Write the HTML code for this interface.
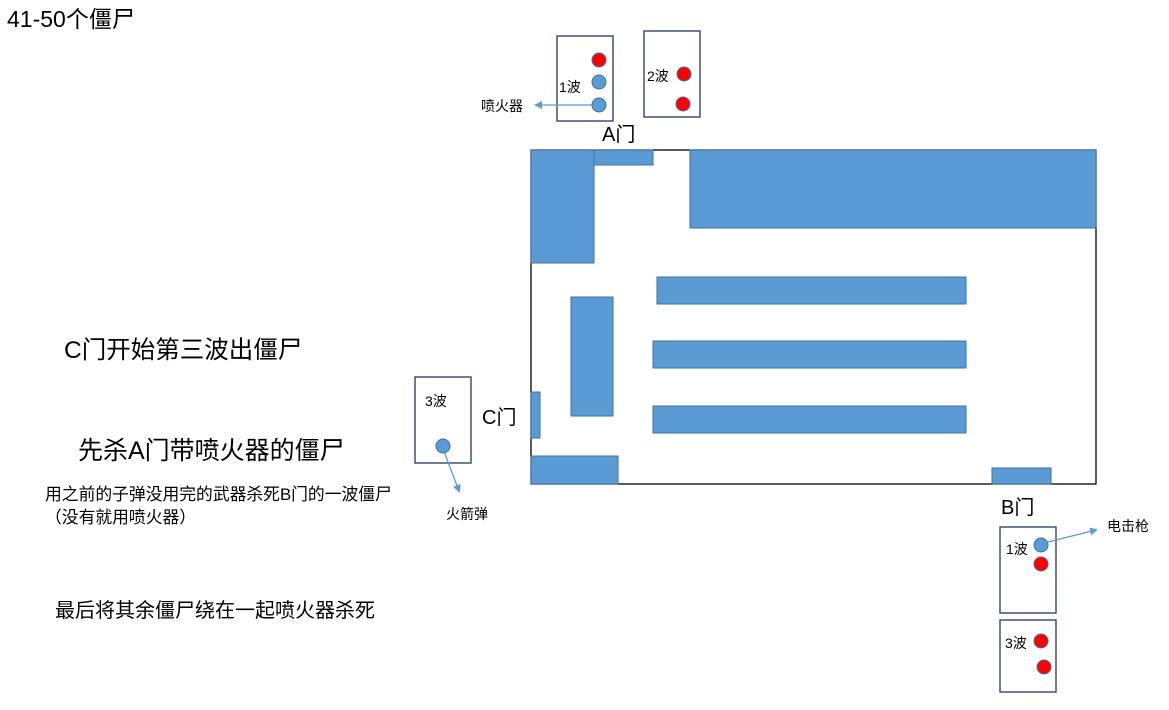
<!DOCTYPE html>
<html><head><meta charset="utf-8"><style>
html,body{margin:0;padding:0;background:#fff;}
svg{display:block;font-family:"Liberation Sans","Noto Sans CJK SC",sans-serif;}
</style></head><body>
<svg width="1169" height="710" viewBox="0 0 1169 710" xmlns="http://www.w3.org/2000/svg">
<defs>
<marker id="ar" markerWidth="8" markerHeight="8" refX="6" refY="4" orient="auto" markerUnits="userSpaceOnUse">
<path d="M0,0 L8,4 L0,8 Z" fill="#5b9bd5"/></marker>
</defs>
<rect width="1169" height="710" fill="#fff"/>
<text x="7" y="27" font-size="23" fill="#000">41-50个僵尸</text>
<text x="64" y="358" font-size="24.5" fill="#000">C门开始第三波出僵尸</text>
<text x="78" y="459" font-size="25" fill="#000">先杀A门带喷火器的僵尸</text>
<text x="45" y="500" font-size="16.8" fill="#000">用之前的子弹没用完的武器杀死B门的一波僵尸</text>
<text x="45" y="523" font-size="16.8" fill="#000">（没有就用喷火器）</text>
<text x="55" y="617" font-size="20" fill="#000">最后将其余僵尸绕在一起喷火器杀死</text>

<rect x="531" y="150" width="565" height="334" fill="none" stroke="#000" stroke-width="1.3"/>
<g fill="#5b9bd5" stroke="#41719c" stroke-width="1">
<rect x="531" y="150" width="63" height="113"/>
<rect x="594" y="150" width="59" height="15"/>
<rect x="690" y="150" width="406" height="78"/>
<rect x="657" y="277" width="309" height="27"/>
<rect x="653" y="341" width="313" height="27"/>
<rect x="653" y="406" width="313" height="27"/>
<rect x="571" y="297" width="42" height="119"/>
<rect x="531" y="392" width="9" height="46"/>
<rect x="531" y="456" width="87" height="28"/>
<rect x="992" y="468" width="59" height="16"/>
</g>
<text x="602" y="141" font-size="20" fill="#000">A门</text>
<text x="482" y="424" font-size="20" fill="#000">C门</text>
<text x="1001" y="514" font-size="20" fill="#000">B门</text>

<g fill="#fff" stroke="#1f3864" stroke-width="1.3">
<rect x="557" y="36" width="56" height="85"/>
<rect x="644" y="31" width="56" height="86"/>
<rect x="415" y="377" width="56" height="86"/>
<rect x="1000" y="527" width="56" height="86"/>
<rect x="1000" y="620" width="56" height="72"/>
</g>
<g font-size="14" fill="#000">
<text x="559" y="92">1波</text>
<text x="647" y="81">2波</text>
<text x="425" y="406">3波</text>
<text x="1006" y="554">1波</text>
<text x="1005" y="648">3波</text>
</g>
<g stroke="#5b9bd5" stroke-width="1.3" fill="none">
<line x1="598" y1="105" x2="536" y2="105" marker-end="url(#ar)"/>
<line x1="442" y1="446" x2="459" y2="491" marker-end="url(#ar)"/>
<line x1="1048" y1="542" x2="1096" y2="530" marker-end="url(#ar)"/>
</g>
<g font-size="14" fill="#000">
<text x="481" y="111">喷火器</text>
<text x="446" y="519">火箭弹</text>
<text x="1107" y="531">电击枪</text>
</g>
<g stroke="#41719c" stroke-width="1">
<circle cx="599" cy="60" r="7" fill="#ff0000"/>
<circle cx="599" cy="82" r="7" fill="#5b9bd5"/>
<circle cx="599" cy="105" r="7" fill="#5b9bd5"/>
<circle cx="684" cy="74" r="7" fill="#ff0000"/>
<circle cx="683" cy="104" r="7" fill="#ff0000"/>
<circle cx="443" cy="446" r="7" fill="#5b9bd5"/>
<circle cx="1041" cy="545" r="7" fill="#5b9bd5"/>
<circle cx="1041" cy="564" r="7" fill="#ff0000"/>
<circle cx="1041" cy="641" r="7" fill="#ff0000"/>
<circle cx="1044" cy="667" r="7" fill="#ff0000"/>
</g>
</svg>
</body></html>
